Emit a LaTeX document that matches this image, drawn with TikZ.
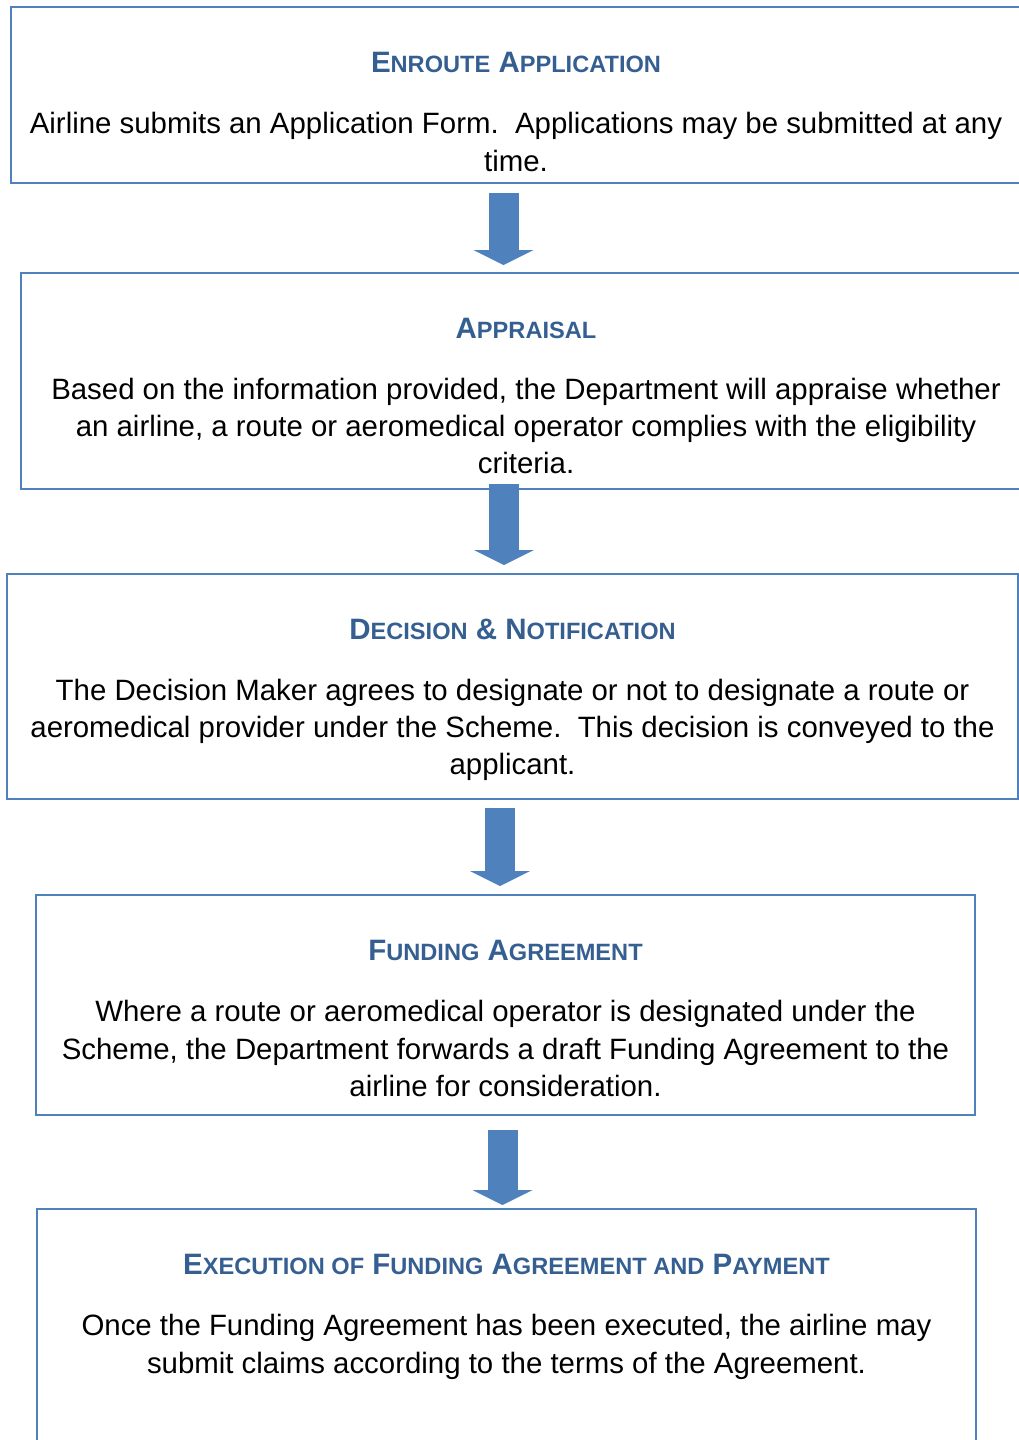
\documentclass[tikz,border=0pt]{standalone}
\usepackage{fontspec}
\setmainfont{Liberation Sans}
\usetikzlibrary{positioning, arrows.meta}
\definecolor{boxblue}{HTML}{4F81BD}
\definecolor{headblue}{HTML}{365F91}
\newcommand{\smcap}[1]{{\fontsize{23.6}{28}\selectfont #1}}

\begin{document}
\begin{tikzpicture}
	[x=1pt, y=1pt,
	 stage/.style={draw=boxblue, line width=2pt, inner sep=0pt, anchor=north west},
	 heading/.style={font=\fontsize{29.5}{35}\selectfont\bfseries, text=headblue, anchor=base, inner sep=0pt},
	 bodytext/.style={font=\fontsize{29.4}{37.3}\selectfont, align=center, inner sep=0pt},
	 flow/.style={color=boxblue, line width=30pt, -{Triangle[width=60pt, length=15pt, line width=0pt]}}]
   \useasboundingbox (0,0) rectangle (1019,-1440);

   \node[stage, minimum width=1010pt, minimum height=176pt] (s_1) at (10,-6) {};
   \node[stage, minimum width=1010pt, minimum height=216pt] (s_2) at (20,-272) {};
   \node[stage, minimum width=1011pt, minimum height=225pt] (s_3) at (6,-573) {};
   \node[stage, minimum width=939pt, minimum height=220pt] (s_4) at (35,-894) {};
   \node[stage, minimum width=939pt, minimum height=252pt] (s_5) at (36,-1208) {};

   \node[heading] (h_1) at ([yshift=-66.5pt]s_1.north) {E\smcap{NROUTE} A\smcap{PPLICATION}};
   \node[heading] (h_2) at ([yshift=-66.5pt]s_2.north) {A\smcap{PPRAISAL}};
   \node[heading] (h_3) at ([yshift=-66.5pt]s_3.north) {D\smcap{ECISION} \& N\smcap{OTIFICATION}};
   \node[heading] (h_4) at ([yshift=-66.5pt]s_4.north) {F\smcap{UNDING} A\smcap{GREEMENT}};
   \node[heading] (h_5) at ([yshift=-66.5pt]s_5.north) {E\smcap{XECUTION OF} F\smcap{UNDING} A\smcap{GREEMENT AND} P\smcap{AYMENT}};

   \node[bodytext] (t_1) [below=34.9pt of h_1.base] {\strut Airline submits an Application Form.\ \ Applications may be submitted at any\\ time.};
   \node[bodytext] (t_2) [below=34.4pt of h_2.base] {\strut Based on the information provided, the Department will appraise whether\\ an airline, a route or aeromedical operator complies with the eligibility\\ criteria.};
   \node[bodytext] (t_3) [below=34.4pt of h_3.base] {\strut The Decision Maker agrees to designate or not to designate a route or\\ aeromedical provider under the Scheme.\ \ This decision is conveyed to the\\ applicant.};
   \node[bodytext] (t_4) [below=34.9pt of h_4.base] {\strut Where a route or aeromedical operator is designated under the\\ Scheme, the Department forwards a draft Funding Agreement to the\\ airline for consideration.};
   \node[bodytext] (t_5) [below=34.9pt of h_5.base] {\strut Once the Funding Agreement has been executed, the airline may\\ submit claims according to the terms of the Agreement.};

   \coordinate (a_1) at (503.5,-193);  \coordinate (b_1) at (503.5,-265);
   \coordinate (a_2) at (504,-484);    \coordinate (b_2) at (504,-565);
   \coordinate (a_3) at (500,-808);    \coordinate (b_3) at (500,-886);
   \coordinate (a_4) at (502.5,-1130); \coordinate (b_4) at (502.5,-1205);

   \draw[flow] (a_1) -- (b_1);
   \draw[flow] (a_2) -- (b_2);
   \draw[flow] (a_3) -- (b_3);
   \draw[flow] (a_4) -- (b_4);

\end{tikzpicture}
\end{document}
